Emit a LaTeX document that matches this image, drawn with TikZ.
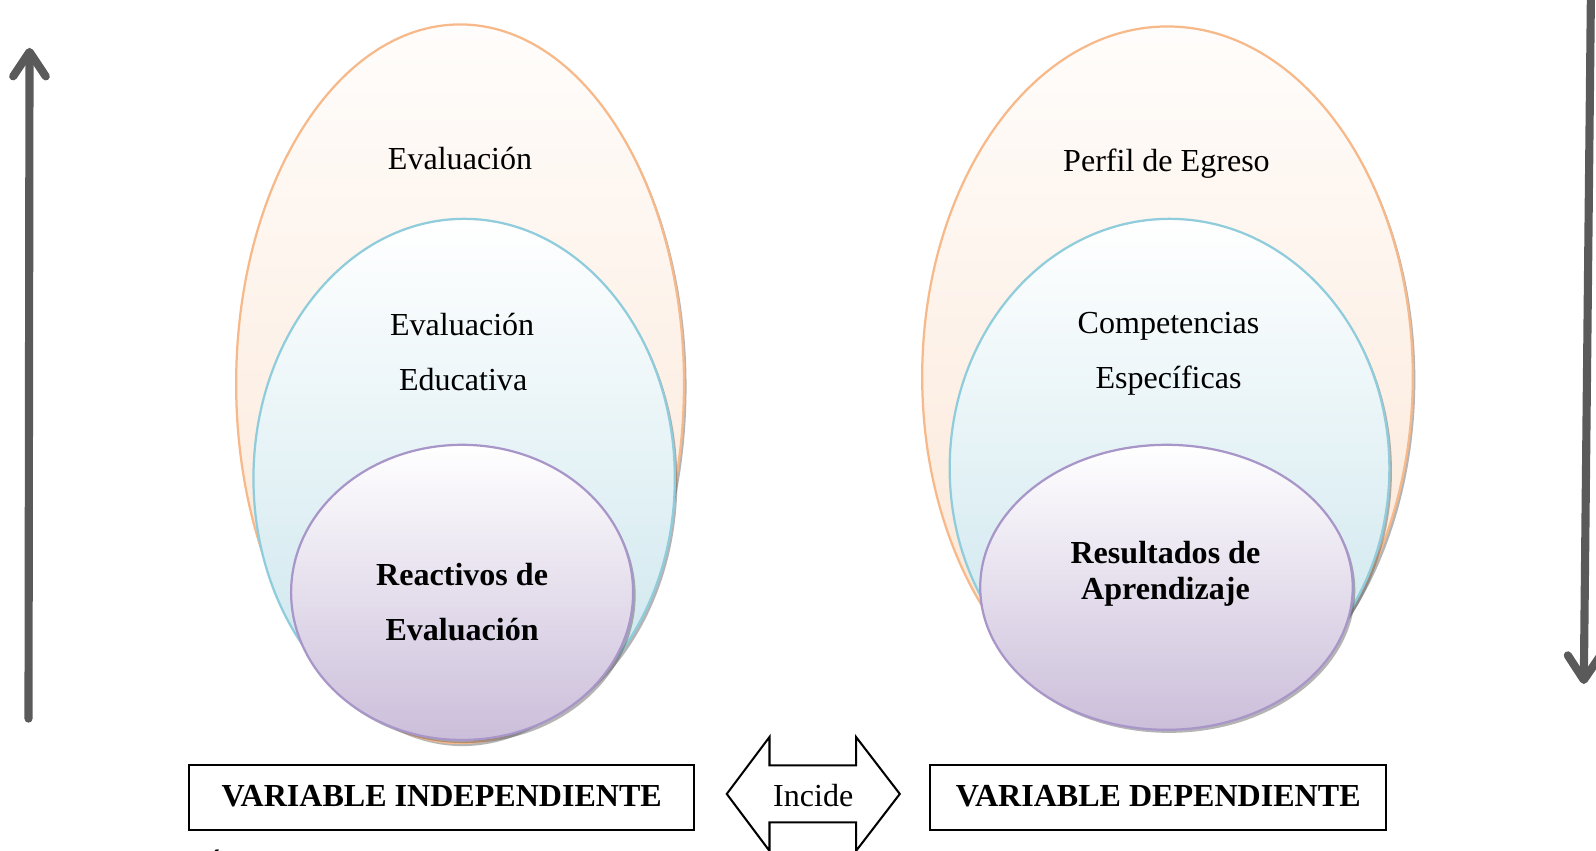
\documentclass[tikz,border=0pt]{standalone}
\usepackage{fontspec}
\setmainfont{Liberation Serif}
\usetikzlibrary{shapes.geometric,arrows.meta,shadows}
\definecolor{orB}{RGB}{247,185,138}
\definecolor{orF}{RGB}{251,228,210}
\definecolor{blB}{RGB}{143,204,220}
\definecolor{blF}{RGB}{200,228,236}
\definecolor{puB}{RGB}{169,150,200}
\definecolor{puF}{RGB}{203,190,218}
\definecolor{arrG}{RGB}{90,90,90}
\tikzset{
  oval/.style={ellipse, inner sep=0pt, line width=2.2pt,
    drop shadow={shadow xshift=2.5pt, shadow yshift=-3pt, opacity=0.45, fill=black!65}},
  ovalO/.style={oval, draw=orB, top color=orF!8, bottom color=orF},
  ovalB/.style={oval, draw=blB, top color=white, bottom color=blF},
  ovalP/.style={oval, draw=puB, top color=white, bottom color=puF},
  lbl/.style={anchor=base, inner sep=0pt, font=\fontsize{31.5}{37}\selectfont},
  blbl/.style={lbl, font=\fontsize{31.5}{37}\selectfont\bfseries},
  varbox/.style={draw, line width=2pt, inner sep=0pt},
  bigarrow/.style={draw=arrG, line width=8pt, line cap=round,
    -{Straight Barb[length=24pt,width=32pt,round]}}
}
\begin{document}
\begin{tikzpicture}[x=1pt,y=-1pt]
\useasboundingbox (0,0) rectangle (1568,836);
% left ellipses
\node[ovalO, minimum width=440pt, minimum height=706pt] (lo) at (452,377) {};
\node[ovalB, minimum width=414pt, minimum height=510pt] (lm) at (456,470) {};
\node[ovalP, minimum width=336pt, minimum height=290pt] (li) at (454,582) {};
% right ellipses
\node[ovalO, minimum width=482pt, minimum height=688pt] (ro) at (1147,370) {};
\node[ovalB, minimum width=432pt, minimum height=490pt] (rm) at (1149,460) {};
\node[ovalP, minimum width=366pt, minimum height=280pt] (ri) at (1146,577) {};
% texts
\node[lbl] (t1) at (452,167) {Evaluación};
\node[lbl] (t2) at (454,330) {Evaluación};
\node[lbl] (t3) at (455,384) {Educativa};
\node[blbl] (t4) at (454,575) {Reactivos de};
\node[blbl] (t5) at (454,629) {Evaluación};
\node[lbl] (t6) at (1146,168) {Perfil de Egreso};
\node[lbl] (t7) at (1148,328) {Competencias};
\node[lbl] (t8) at (1148,382) {Específicas};
\node[blbl] (t9) at (1145,554) {Resultados de};
\node[blbl] (t10) at (1145,589) {Aprendizaje};
% boxes
\node[varbox, minimum width=496pt, minimum height=63pt] (vi) at (434,783.5) {};
\node[blbl] (vit) at (434,792) {VARIABLE INDEPENDIENTE};
\node[varbox, minimum width=448pt, minimum height=63pt] (vd) at (1138,783.5) {};
\node[blbl] (vdt) at (1138,792) {VARIABLE DEPENDIENTE};
% double arrow
\draw[line width=2pt, line join=miter] (714,780) -- (756,724) -- (756,752) -- (841,752) -- (841,724) -- (884,780)
  -- (841,836) -- (841,808) -- (756,808) -- (756,836) -- cycle;
\node[lbl] (inc) at (799,792) {Incide};
% side arrows
\coordinate (la0) at (28,706);
\coordinate (la1) at (29,47);
\draw[bigarrow] (la0) -- (la1);
\coordinate (ra0) at (1563,-6);
\coordinate (ra1) at (1556,672);
\draw[bigarrow] (ra0) -- (ra1);
% cut-off letter at the bottom
\begin{scope}
\clip (0,0) rectangle (1568,836);
\node[lbl] (cut) at (211,862) {Á};
\end{scope}
\end{tikzpicture}
\end{document}
